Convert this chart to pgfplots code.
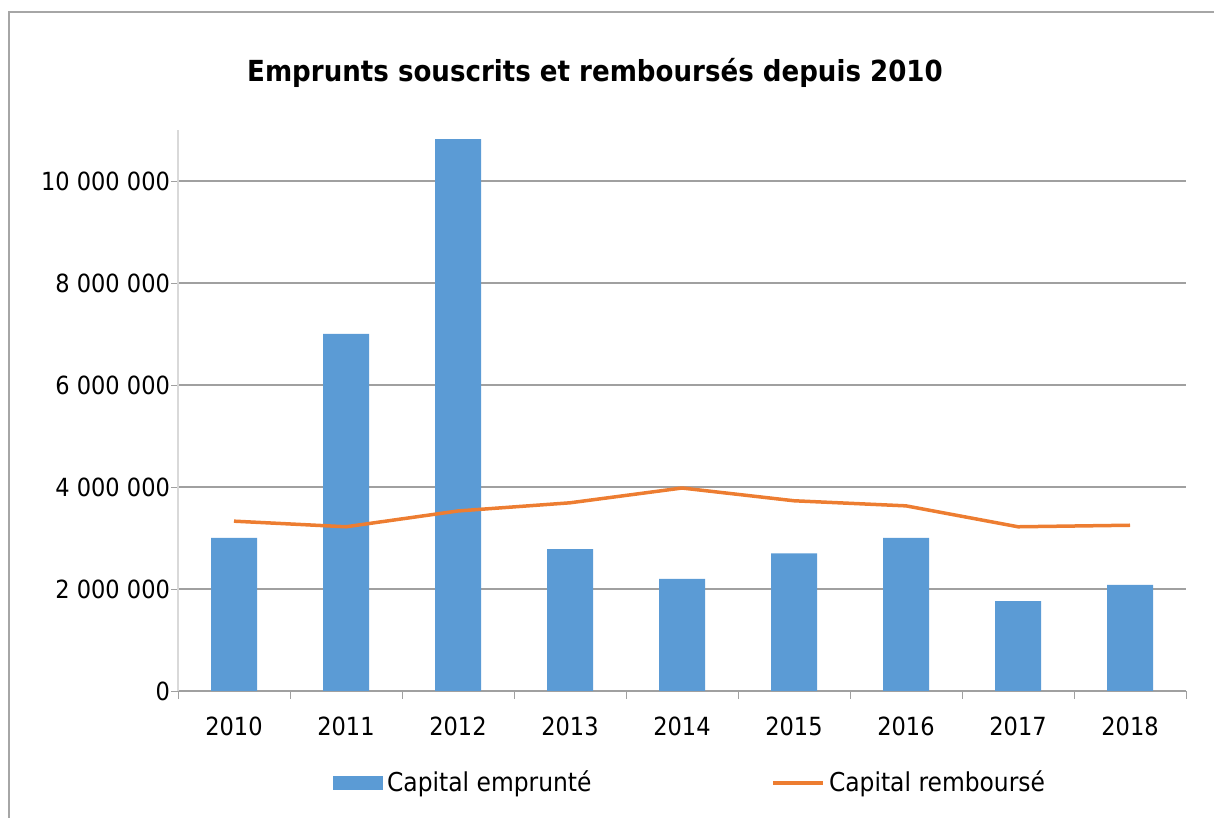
\documentclass[border=0pt]{standalone}
\usepackage{pgfplots}
\pgfplotsset{compat=1.18}
\usepackage{fontspec}
\setmainfont{DejaVu Sans}[FakeStretch=0.9]
\definecolor{barblue}{HTML}{5B9BD5}
\definecolor{lineorange}{HTML}{ED7D31}
\definecolor{gridgray}{HTML}{A0A0A0}
\definecolor{axisgray}{HTML}{D9D9D9}
\definecolor{framegray}{HTML}{A6A6A6}

\begin{document}
\begin{tikzpicture}
% 1 px of the reference = 0.5pt
\path[use as bounding box] (0pt,0pt) rectangle (607pt,409pt);
% frame (only top and left edges visible)
\draw[framegray, line width=1pt] (4.5pt,0pt) -- (4.5pt,403pt) -- (607pt,403pt);
\node[font=\bfseries\fontsize{14.5}{17}\selectfont] at (297.5pt,372.5pt) {Emprunts souscrits et remboursés depuis 2010};
\begin{axis}[
    at={(89pt,63.5pt)}, anchor=south west,
    scale only axis,
    width=504pt, height=280.5pt,
    xmin=-0.5, xmax=8.5,
    ymin=0, ymax=11000000,
    xtick={0,...,8},
    xticklabels={2010,2011,2012,2013,2014,2015,2016,2017,2018},
    major x tick style={draw=none},
    minor xtick={-0.5,0.5,...,8.5},
    minor tick length=4pt,
    minor x tick style={gridgray},
    ytick={0,2000000,4000000,6000000,8000000,10000000},
    scaled y ticks=false,
    ymajorgrids=true,
    major grid style={gridgray, line width=0.6pt},
    major y tick style={gridgray},
    major tick length=3.5pt,
    tick align=outside,
    tick pos=left,
    axis x line*=bottom,
    axis y line*=left,
    x axis line style={gridgray, line width=0.6pt},
    y axis line style={axisgray, line width=0.6pt},
    font=\fontsize{12.5}{15}\selectfont,
    yticklabel style={xshift=3pt, /pgf/number format/.cd, fixed, 1000 sep={\ }, assume math mode=true},
    xticklabel style={yshift=-6pt},
    legend columns=2,
    legend style={at={(0.509,-0.164)}, anchor=center, draw=none,
      font=\fontsize{13}{15}\selectfont,
      /tikz/every even column/.append style={column sep=88pt}},
  ]
\addplot[ybar, bar width=23pt, fill=barblue, draw=none,
  legend image code/.code={\fill[barblue] (0pt,-3.5pt) rectangle (25pt,3.5pt);}]
  coordinates {(0,3000000) (1,7000000) (2,10820000) (3,2780000) (4,2200000)
               (5,2700000) (6,3000000) (7,1760000) (8,2080000)};
\addlegendentry{Capital emprunté}
\addplot[sharp plot, lineorange, line width=1.75pt, mark=none,
  legend image code/.code={\draw[lineorange, line width=1.75pt] (0pt,0pt) -- (25pt,0pt);}]
  coordinates {(0,3330000) (1,3220000) (2,3530000) (3,3690000) (4,3980000)
               (5,3730000) (6,3630000) (7,3220000) (8,3250000)};
\addlegendentry{Capital remboursé}
\end{axis}
\end{tikzpicture}
\end{document}
